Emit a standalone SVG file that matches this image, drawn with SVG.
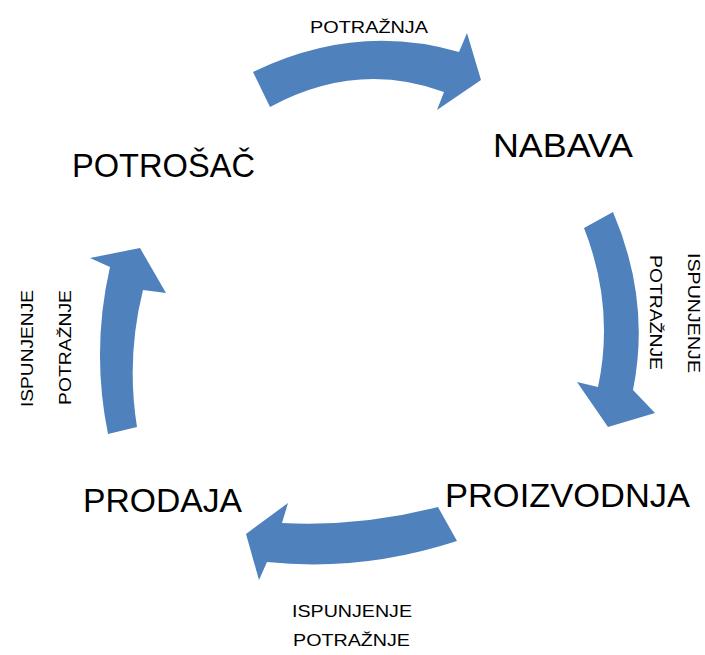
<svg xmlns="http://www.w3.org/2000/svg" width="705" height="655" viewBox="0 0 705 655">
<style>
.arr{fill:#4F81BD;stroke:none}
.big{font-family:"Liberation Sans",Arial,sans-serif;font-size:34px;fill:#000}
.sm{font-family:"Liberation Sans",Arial,sans-serif;font-size:17px;fill:#000}
</style>
<rect width="705" height="655" fill="#fff"/>
<g id="connectors">
<g id="arrow-potraznja">
<path class="arr" d="M253,72 Q356,22 459,52 L467,33 L481,80 L437,110 L444,92 Q357,60 270,107 Z"/>
<text class="sm" x="310" y="33" textLength="118" lengthAdjust="spacingAndGlyphs">POTRAŽNJA</text>
</g>
<g id="arrow-right">
<path class="arr" d="M584,228 L613,212 Q651,301 633,390 L655,413 L608,427 L577,382 L598,387 Q615,307 584,228 Z"/>
<text class="sm" transform="translate(688,253) rotate(90)" textLength="120" lengthAdjust="spacingAndGlyphs">ISPUNJENJE</text>
<text class="sm" transform="translate(650,255) rotate(90)" textLength="115" lengthAdjust="spacingAndGlyphs">POTRAŽNJE</text>
</g>
<g id="arrow-bottom">
<path class="arr" d="M438,507 L457,541 Q362,572 267,562 L259,580 L246,534 L288,503 L282,523 Q360,527 438,507 Z"/>
<text class="sm" x="292" y="617" textLength="120" lengthAdjust="spacingAndGlyphs">ISPUNJENJE</text>
<text class="sm" x="293" y="646" textLength="117" lengthAdjust="spacingAndGlyphs">POTRAŽNJE</text>
</g>
<g id="arrow-left">
<path class="arr" d="M108,434 Q91,350 110,267 L90,258 L140,248 L166,293 L143,290 Q126,358 137,427 Z"/>
<text class="sm" transform="translate(33,407) rotate(-90)" textLength="117" lengthAdjust="spacingAndGlyphs">ISPUNJENJE</text>
<text class="sm" transform="translate(71,405) rotate(-90)" textLength="115" lengthAdjust="spacingAndGlyphs">POTRAŽNJE</text>
</g>
</g>
<g id="node-nabava"><text class="big" x="493" y="157" textLength="140" lengthAdjust="spacingAndGlyphs">NABAVA</text></g>
<g id="node-potrosac"><text class="big" x="72" y="177" textLength="183" lengthAdjust="spacingAndGlyphs">POTROŠAČ</text></g>
<g id="node-proizvodnja"><text class="big" x="445" y="507" textLength="245" lengthAdjust="spacingAndGlyphs">PROIZVODNJA</text></g>
<g id="node-prodaja"><text class="big" x="83" y="512" textLength="159" lengthAdjust="spacingAndGlyphs">PRODAJA</text></g>
</svg>
